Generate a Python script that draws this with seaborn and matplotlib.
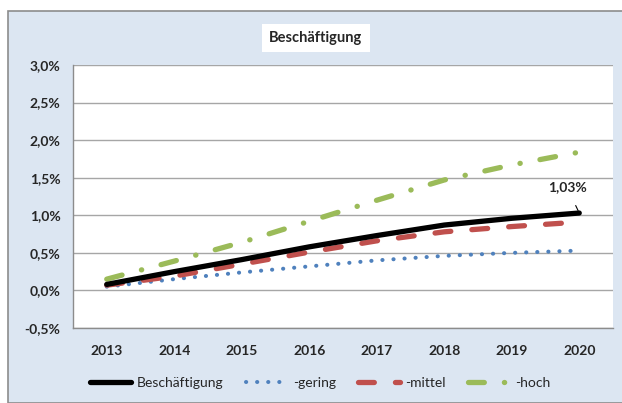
import matplotlib
matplotlib.use("Agg")
import matplotlib.pyplot as plt
import matplotlib.patches as mpatches
from matplotlib.ticker import FixedLocator, FuncFormatter
import seaborn as sns

# Werte
jahre = [2013, 2014, 2015, 2016, 2017, 2018, 2019, 2020]
beschaeftigung = [0.08, 0.25, 0.41, 0.58, 0.73, 0.87, 0.96, 1.03]
gering = [0.05, 0.15, 0.24, 0.32, 0.40, 0.46, 0.50, 0.53]
mittel = [0.07, 0.19, 0.35, 0.51, 0.66, 0.78, 0.85, 0.91]
hoch = [0.15, 0.39, 0.64, 0.92, 1.20, 1.47, 1.67, 1.84]
y_ticks = [-0.5, 0.0, 0.5, 1.0, 1.5, 2.0, 2.5, 3.0]

sns.set_style("white")
plt.rcParams["font.family"] = ["Lato", "DejaVu Sans"]

fig = plt.figure(figsize=(6.22, 4.03), dpi=100)
fig.patch.set_facecolor("white")
# hellblauer Diagrammbereich mit grauem Rahmen
fig.patches.append(mpatches.Rectangle((8 / 622, 0.0), 1.0, 1 - 11 / 403,
                                      transform=fig.transFigure, facecolor="#dce6f2",
                                      edgecolor="#8c8c8c", linewidth=1.2, zorder=-5))

ax = fig.add_axes([73 / 622, 1 - 328 / 403, 540 / 622, 263 / 403])
ax.set_zorder(1)
ax.set_facecolor("white")

sns.lineplot(x=jahre, y=beschaeftigung, ax=ax, color="black", linewidth=3.8,
             label="Beschäftigung", solid_capstyle="round", zorder=5)
sns.lineplot(x=jahre, y=gering, ax=ax, color="#4f81bd", linewidth=2.9,
             linestyle=(0, (0.05, 2.7)), dash_capstyle="round", label="-gering", zorder=3)
sns.lineplot(x=jahre, y=mittel, ax=ax, color="#c0504d", linewidth=3.8,
             linestyle=(0, (3.0, 4.0)), dash_capstyle="round", label="-mittel", zorder=4)
sns.lineplot(x=jahre, y=hoch, ax=ax, color="#9bbb59", linewidth=3.8,
             linestyle=(0, (3.0, 3.8, 0.05, 3.8)), dash_capstyle="round", label="-hoch", zorder=4)

ax.set_xlim(2012.5, 2020.5)
ax.set_ylim(-0.5, 3.0)
ax.yaxis.set_major_locator(FixedLocator(y_ticks))
ax.yaxis.set_major_formatter(FuncFormatter(lambda v, p: f"{v:.1f}%".replace(".", ",")))
ax.xaxis.set_major_locator(FixedLocator(jahre))
ax.xaxis.set_minor_locator(FixedLocator([j - 0.5 for j in jahre] + [2020.5]))
ax.tick_params(axis="x", which="major", length=0, pad=12, labelsize=10)
ax.tick_params(axis="x", which="minor", length=5, color="#8c8c8c", width=1)
ax.tick_params(axis="y", length=5, color="#8c8c8c", width=1, pad=4, labelsize=10)
for lab in ax.get_xticklabels() + ax.get_yticklabels():
    lab.set_fontweight("bold")

ax.grid(axis="y", color="#a6a6a6", linewidth=1)
ax.set_axisbelow(True)
for side in ["top", "right"]:
    ax.spines[side].set_visible(False)
for side in ["left", "bottom"]:
    ax.spines[side].set_color("#8c8c8c")
    ax.spines[side].set_linewidth(1)
ax.set_xlabel("")
ax.set_ylabel("")

# Beschriftung Endwert
ax.annotate("1,03%", xy=(jahre[-1], beschaeftigung[-1]), xytext=(2019.82, 1.37),
            ha="center", va="center", fontsize=10, fontweight="bold",
            arrowprops=dict(arrowstyle="-", color="black", lw=0.8, shrinkA=7, shrinkB=2))

# Titel im weissen Kasten
fig.text(316 / 622, 1 - 38 / 403, "Beschäftigung", ha="center", va="center",
         fontsize=10.5, fontweight="bold",
         bbox=dict(facecolor="white", edgecolor="none", boxstyle="square,pad=0.5"))

handles, labels = ax.get_legend_handles_labels()
ax.get_legend().remove()
fig.legend(handles, labels, loc="center", bbox_to_anchor=(320 / 622, 1 - 383 / 403),
           ncol=4, frameon=False, fontsize=10, handlelength=3.0, columnspacing=1.6,
           handletextpad=0.4)

fig.savefig("out.png", dpi=100)
